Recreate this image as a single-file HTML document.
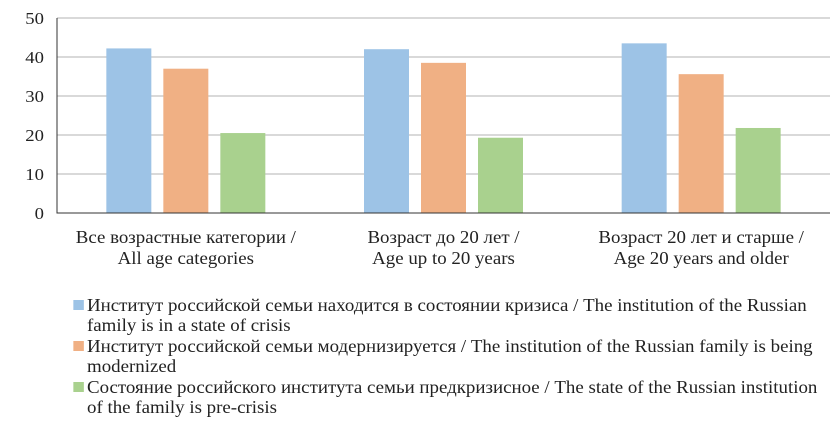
<!DOCTYPE html>
<html><head><meta charset="utf-8"><style>
body{margin:0;background:#fff;width:840px;height:425px;overflow:hidden}
svg text{font-family:"Liberation Serif",serif;fill:#222}
.leg{position:absolute;left:87px;top:295px;font:18px/20.4px "Liberation Serif",serif;color:#222;white-space:nowrap;transform:scaleX(1.05);transform-origin:0 0}
.leg div{position:relative}
.sw{position:absolute;left:-13px;top:5px;width:10px;height:10px}
</style></head><body>
<svg id="chart" width="840" height="300" style="position:absolute;left:0;top:0"></svg>
<div class="leg">
<div><span class="sw" style="background:#9dc3e6"></span>Институт российской семьи находится в состоянии кризиса / The institution of the Russian<br>family is in a state of crisis</div>
<div><span class="sw" style="background:#f0b084"></span>Институт российской семьи модернизируется / The institution of the Russian family is being<br>modernized</div>
<div><span class="sw" style="background:#a9d18e"></span>Состояние российского института семьи предкризисное / The state of the Russian institution<br>of the family is pre-crisis</div>
</div>
<script>
const categories=[["Все возрастные категории /","All age categories"],["Возраст до 20 лет /","Age up to 20 years"],["Возраст 20 лет и старше /","Age 20 years and older"]];
const crisis=[42.2,42,43.5];
const modernized=[37,38.5,35.6];
const preCrisis=[20.5,19.3,21.8];
const ticks=[0,10,20,30,40,50];
const series=[crisis,modernized,preCrisis];
const colors=["#9dc3e6","#f0b084","#a9d18e"];
const names=["crisis","modernized","pre-crisis"];
const svg=document.getElementById('chart');const NS="http://www.w3.org/2000/svg";
const x0=57,x1=830,y0=213,y1=18;
const y=v=>y0-(v/50)*(y0-y1);
const gw=(x1-x0)/categories.length;
function mk(t,a,p){const e=document.createElementNS(NS,t);for(const k in a)e.setAttribute(k,a[k]);(p||svg).appendChild(e);return e;}
ticks.forEach(t=>{
 if(t>0){const l=mk('line',{x1:x0,x2:x1,y1:y(t),y2:y(t),stroke:'#d9d9d9','stroke-width':2});
 
 }
 const tx=mk('text',{x:0,y:0,'text-anchor':'end','font-size':17,transform:`translate(44,${y(t)+6}) scale(1.1,1)`});tx.textContent=t;
 
 
});
const bw=45,gap=12;
categories.forEach((c,i)=>{
 const cx=x0+gw*(i+0.5);
 series.forEach((s,j)=>{
  const bx=cx-1.5*bw-gap+j*(bw+gap);
  const r=mk('rect',{x:bx,y:y(s[i]),width:bw,height:y0-y(s[i]),fill:colors[j]});
  
  
 });
 c.forEach((line,k)=>{
  const t=mk('text',{x:0,y:0,'text-anchor':'middle','font-size':17.5,transform:`translate(${cx},${243+k*21}) scale(1.08,1)`});t.textContent=line;
  
  
 });
});
const ax=mk('path',{d:`M${x0} ${y1}V${y0}H${x1}`,fill:'none',stroke:'#333','stroke-width':1});


</script>
</body></html>
